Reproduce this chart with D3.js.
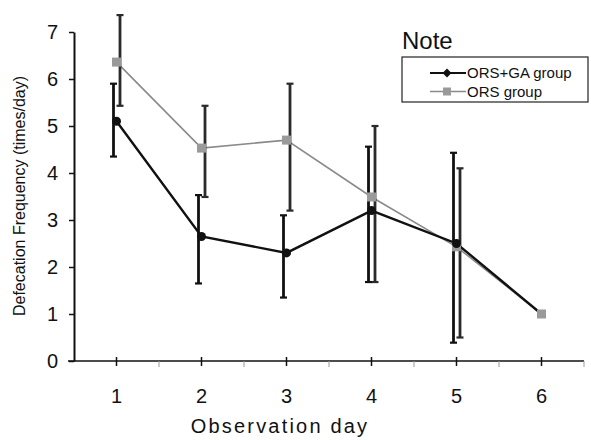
<!DOCTYPE html>
<html>
<head>
<meta charset="utf-8">
<script src="https://cdn.jsdelivr.net/npm/d3@7"></script>
<style>
  body { margin: 0; background: #fff; }
  text { font-family: Arial, "Liberation Sans", sans-serif; fill: #111; }
</style>
</head>
<body>
<div id="chart"></div>
<script>
// observation days
const days = [1, 2, 3, 4, 5, 6];
const yTicks = [0, 1, 2, 3, 4, 5, 6, 7];

// ORS+GA group: mean, lower and upper end of the bar
const gaMean = [5.1, 2.65, 2.3, 3.2, 2.5, 1.0];
const gaLow = [4.35, 1.65, 1.35, 1.68, 0.39, null];
const gaHigh = [5.9, 3.53, 3.1, 4.56, 4.43, null];

// ORS group
const orsMean = [6.36, 4.53, 4.7, 3.49, 2.43, 1.0];
const orsLow = [5.43, 3.49, 3.2, 1.68, 0.5, null];
const orsHigh = [7.36, 5.43, 5.9, 5.0, 4.1, null];

const seriesNames = ['ORS+GA group', 'ORS group'];

const width = 591, height = 440;
const margin = {top: 32, right: 7, bottom: 79, left: 74};

const svg = d3.select('#chart').append('svg')
    .attr('width', width)
    .attr('height', height);

// scales
const xScale = d3.scaleBand()
    .domain(days)
    .range([margin.left, width - margin.right])
    .padding(0);
const cx = function (d) { return xScale(d) + xScale.bandwidth() / 2; };

const yScale = d3.scaleLinear()
    .domain([0, 7])
    .range([height - margin.bottom, margin.top]);

// y axis
svg.append('g')
    .attr('transform', `translate(${margin.left},0)`)
    .call(d3.axisLeft(yScale).tickValues(yTicks).tickFormat(d3.format('d'))
        .tickSize(5).tickPadding(11).tickSizeOuter(0))
    .call(function (g) {
        g.select('.domain').attr('stroke', '#111').attr('stroke-width', 2);
        g.selectAll('.tick line').attr('stroke', '#111').attr('stroke-width', 1.5);
        g.selectAll('.tick text').style('font-size', '20px').attr('fill', '#111');
    });

// x axis line
const y0 = yScale(0);
svg.append('line')
    .attr('x1', margin.left - 6).attr('x2', width - margin.right)
    .attr('y1', y0).attr('y2', y0)
    .attr('stroke', '#111').attr('stroke-width', 1.5);

// major ticks cross the axis, minor ticks between days
svg.append('g').selectAll('line')
    .data(days)
    .enter().append('line')
    .attr('x1', cx).attr('x2', cx)
    .attr('y1', y0 - 4).attr('y2', y0 + 5)
    .attr('stroke', '#111').attr('stroke-width', 1.5);

svg.append('g').selectAll('line')
    .data(days)
    .enter().append('line')
    .attr('x1', function (d) { return xScale(d) + xScale.bandwidth(); })
    .attr('x2', function (d) { return xScale(d) + xScale.bandwidth(); })
    .attr('y1', y0).attr('y2', y0 + 6)
    .attr('stroke', '#999').attr('stroke-width', 1);

svg.append('g').selectAll('text')
    .data(days)
    .enter().append('text')
    .attr('x', cx)
    .attr('y', y0 + 42)
    .attr('text-anchor', 'middle')
    .style('font-size', '20px')
    .text(function (d) { return d; });

// axis titles
svg.append('text')
    .attr('x', 280)
    .attr('y', 433)
    .attr('text-anchor', 'middle')
    .style('font-size', '20px')
    .style('letter-spacing', '2.2px')
    .text('Observation day');

svg.append('text')
    .attr('transform', 'translate(25,196) rotate(-90)')
    .attr('text-anchor', 'middle')
    .style('font-size', '16px')
    .text('Defecation Frequency (times/day)');

// build point rows for each series
function rows(mean, low, high) {
    return days.map(function (d, i) {
        return {day: d, mean: mean[i], low: low[i], high: high[i]};
    });
}
const gaRows = rows(gaMean, gaLow, gaHigh);
const orsRows = rows(orsMean, orsLow, orsHigh);

const line = d3.line()
    .x(function (d) { return cx(d.day); })
    .y(function (d) { return yScale(d.mean); });

// error bars (drawn slightly apart so they do not overlap)
function errorBars(data, dx, color) {
    const g = svg.append('g');
    const bars = data.filter(function (d) { return d.low !== null; });
    g.selectAll('line.bar')
        .data(bars)
        .enter().append('line')
        .attr('class', 'bar')
        .attr('x1', function (d) { return cx(d.day) + dx; })
        .attr('x2', function (d) { return cx(d.day) + dx; })
        .attr('y1', function (d) { return yScale(d.low); })
        .attr('y2', function (d) { return yScale(d.high); })
        .attr('stroke', color).attr('stroke-width', 2.8);
    ['low', 'high'].forEach(function (k) {
        g.selectAll('line.' + k)
            .data(bars)
            .enter().append('line')
            .attr('class', k)
            .attr('x1', function (d) { return cx(d.day) + dx - 3.5; })
            .attr('x2', function (d) { return cx(d.day) + dx + 3.5; })
            .attr('y1', function (d) { return yScale(d[k]); })
            .attr('y2', function (d) { return yScale(d[k]); })
            .attr('stroke', color).attr('stroke-width', 2.2);
    });
}

// ORS group (grey)
svg.append('path')
    .datum(orsRows)
    .attr('d', line)
    .attr('fill', 'none')
    .attr('stroke', '#8a8a8a')
    .attr('stroke-width', 1.6);
errorBars(orsRows, 3.5, '#2a2a2a');

// ORS+GA group (black)
svg.append('path')
    .datum(gaRows)
    .attr('d', line)
    .attr('fill', 'none')
    .attr('stroke', '#111')
    .attr('stroke-width', 2.4);
errorBars(gaRows, -3, '#111');

svg.append('g').selectAll('rect')
    .data(orsRows)
    .enter().append('rect')
    .attr('x', function (d) { return cx(d.day) - 4.5; })
    .attr('y', function (d) { return yScale(d.mean) - 4.5; })
    .attr('width', 9).attr('height', 9)
    .attr('fill', '#9a9a9a');

svg.append('g').selectAll('circle')
    .data(gaRows.filter(function (d) { return d.day !== 6; }))
    .enter().append('circle')
    .attr('cx', function (d) { return cx(d.day); })
    .attr('cy', function (d) { return yScale(d.mean); })
    .attr('r', 4.5)
    .attr('fill', '#111');

// legend
svg.append('text')
    .attr('x', 402)
    .attr('y', 49)
    .style('font-size', '24px')
    .text('Note');

svg.append('rect')
    .attr('x', 402).attr('y', 57)
    .attr('width', 186).attr('height', 45)
    .attr('fill', 'none')
    .attr('stroke', '#222').attr('stroke-width', 1.2);

const legend = svg.selectAll('.legend')
    .data(seriesNames)
    .enter().append('g')
    .attr('class', 'legend')
    .attr('transform', function (d, i) { return `translate(0,${73 + i * 18.5})`; });

legend.append('line')
    .attr('x1', 430).attr('x2', 466)
    .attr('y1', 0).attr('y2', 0)
    .attr('stroke', function (d, i) { return i === 0 ? '#111' : '#8a8a8a'; })
    .attr('stroke-width', function (d, i) { return i === 0 ? 2.2 : 1.4; });

legend.append('path')
    .attr('transform', 'translate(447,0)')
    .attr('d', function (d, i) {
        return i === 0 ? 'M0,-4.5L4.5,0L0,4.5L-4.5,0Z' : 'M-4,-4H4V4H-4Z';
    })
    .attr('fill', function (d, i) { return i === 0 ? '#111' : '#9a9a9a'; });

legend.append('text')
    .attr('x', 467)
    .attr('y', 0)
    .attr('dy', '0.35em')
    .style('font-size', '15px')
    .text(function (d) { return d; });
</script>
</body>
</html>
